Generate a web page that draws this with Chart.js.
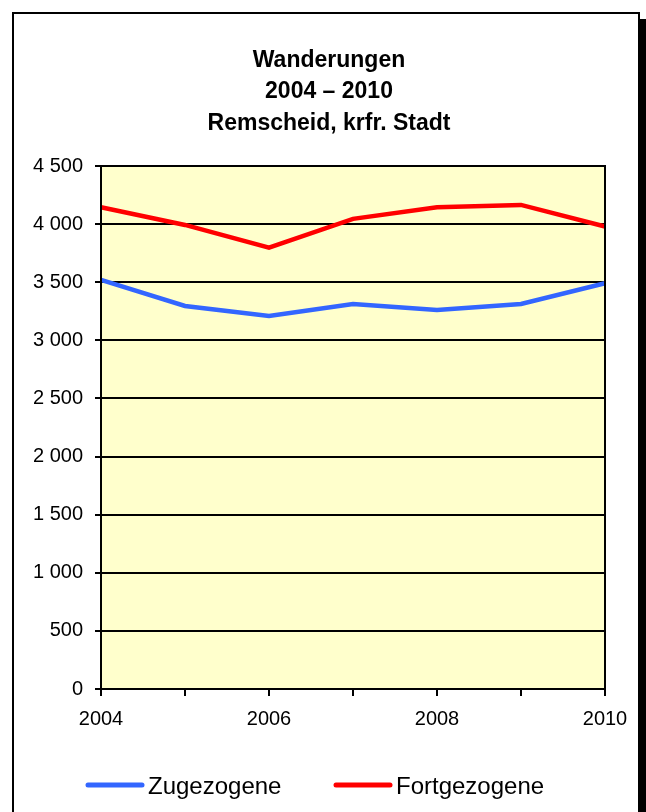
<!DOCTYPE html>
<html>
<head>
<meta charset="utf-8">
<script src="https://cdn.jsdelivr.net/npm/chart.js@4/dist/chart.umd.min.js"></script>
<style>
  html, body { margin: 0; padding: 0; background: #fff; }
  #wrap { width: 646px; height: 812px; }
</style>
</head>
<body>
<div id="wrap"><canvas id="chart" width="646" height="812"></canvas></div>
<script>
const years = ['2004', '2005', '2006', '2007', '2008', '2009', '2010'];
const zugezogene = [3520, 3296, 3210, 3313, 3262, 3313, 3491];
const fortgezogene = [4145, 3993, 3797, 4045, 4145, 4165, 3979];
const titleLines = ['Wanderungen', '2004 – 2010', 'Remscheid, krfr. Stadt'];
const yTicks = { min: 0, max: 4500, step: 500 };

function formatThousands(v) {
  if (v < 1000) return String(v);
  return Math.floor(v / 1000) + ' ' + String(v % 1000).padStart(3, '0');
}

// frame, shadow, yellow plot background, title and legend
const decorations = {
  id: 'decorations',
  beforeDraw(chart) {
    const ctx = chart.ctx;
    const a = chart.chartArea;
    ctx.save();
    ctx.fillStyle = '#000';
    ctx.fillRect(640, 19, 6, 812);
    ctx.strokeStyle = '#000';
    ctx.lineWidth = 2;
    ctx.beginPath();
    ctx.moveTo(13, 820);
    ctx.lineTo(13, 13);
    ctx.lineTo(639, 13);
    ctx.lineTo(639, 820);
    ctx.stroke();
    ctx.fillStyle = '#FFFFCC';
    ctx.fillRect(a.left, a.top, a.right - a.left, a.bottom - a.top);

    ctx.fillStyle = '#000';
    ctx.font = 'bold 23px "Liberation Sans", Arial, sans-serif';
    ctx.textAlign = 'center';
    ctx.textBaseline = 'alphabetic';
    const baselines = [67, 98, 130];
    titleLines.forEach((t, i) => ctx.fillText(t, 329, baselines[i]));
    ctx.restore();
  },
  afterDraw(chart) {
    const ctx = chart.ctx;
    const a = chart.chartArea;
    ctx.save();
    ctx.strokeStyle = '#000';
    ctx.lineWidth = 2;
    ctx.strokeRect(a.left, a.top, a.right - a.left, a.bottom - a.top);

    const items = [
      { label: chart.data.datasets[0].label, color: chart.data.datasets[0].borderColor, x: 86 },
      { label: chart.data.datasets[1].label, color: chart.data.datasets[1].borderColor, x: 334 }
    ];
    ctx.font = '24px "Liberation Sans", Arial, sans-serif';
    ctx.textAlign = 'left';
    ctx.textBaseline = 'alphabetic';
    items.forEach(it => {
      ctx.strokeStyle = it.color;
      ctx.lineWidth = 5;
      ctx.lineCap = 'round';
      ctx.beginPath();
      ctx.moveTo(it.x + 2, 785);
      ctx.lineTo(it.x + 56, 785);
      ctx.stroke();
      ctx.fillStyle = '#000';
      ctx.fillText(it.label, it.x + 62, 794);
    });
    ctx.restore();
  }
};

new Chart(document.getElementById('chart'), {
  type: 'line',
  data: {
    labels: years,
    datasets: [{
      label: 'Zugezogene',
      data: zugezogene,
      borderColor: '#3366FF',
      borderWidth: 4.5,
      pointRadius: 0,
      tension: 0,
      fill: false
    }, {
      label: 'Fortgezogene',
      data: fortgezogene,
      borderColor: '#FF0000',
      borderWidth: 4.5,
      pointRadius: 0,
      tension: 0,
      fill: false
    }]
  },
  options: {
    responsive: false,
    animation: false,
    layout: { padding: { left: 0, right: 41, top: 166, bottom: 83 } },
    plugins: {
      legend: { display: false },
      title: { display: false },
      tooltip: { enabled: false }
    },
    scales: {
      x: {
        afterFit(scale) { scale.height = 40; },
        grid: { drawOnChartArea: false, drawTicks: true, tickLength: 7, color: '#000', lineWidth: 2 },
        border: { display: true, color: '#000', width: 2 },
        ticks: {
          autoSkip: false,
          maxRotation: 0,
          padding: 11,
          color: '#000',
          font: { family: '"Liberation Sans", Arial, sans-serif', size: 20 },
          callback: (v, i) => (i % 2 ? '' : years[i])
        }
      },
      y: {
        min: yTicks.min,
        max: yTicks.max,
        afterFit(scale) { scale.width = 101; },
        grid: { drawTicks: true, tickLength: 6, color: '#000', lineWidth: 2 },
        border: { display: true, color: '#000', width: 2 },
        ticks: {
          stepSize: yTicks.step,
          padding: 12,
          color: '#000',
          font: { family: '"Liberation Sans", Arial, sans-serif', size: 20 },
          callback: v => formatThousands(v)
        }
      }
    }
  },
  plugins: [decorations]
});
</script>
</body>
</html>
